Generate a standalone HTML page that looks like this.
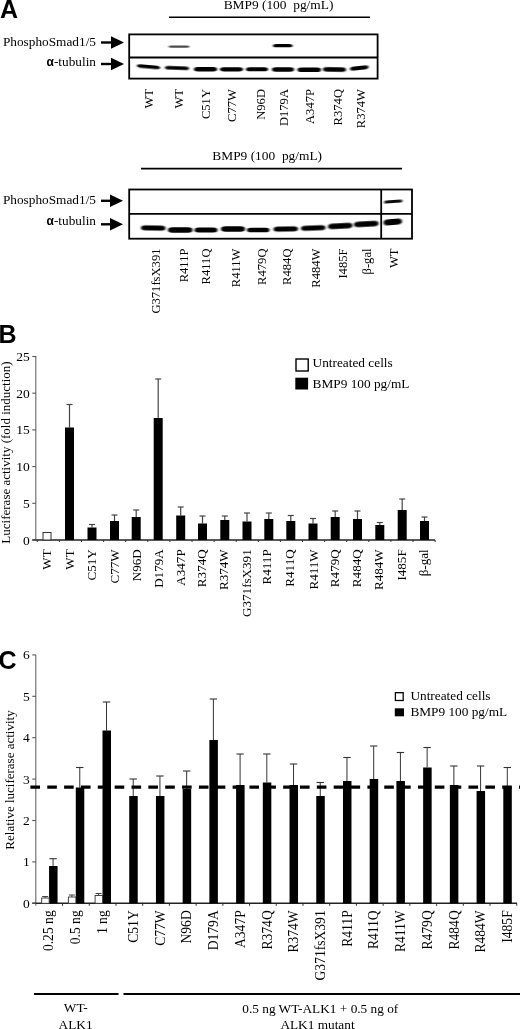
<!DOCTYPE html>
<html><head><meta charset="utf-8"><title>Figure</title>
<style>html,body{margin:0;padding:0;background:#fff;}body{width:520px;height:1029px;overflow:hidden;font-family:"Liberation Serif",serif;}svg{display:block;}.se{font-family:"Liberation Serif",serif;}.sa{font-family:"Liberation Sans",sans-serif;}</style>
</head><body>
<svg width="520" height="1029" viewBox="0 0 520 1029">
<defs><filter id="b1" x="-20%" y="-100%" width="140%" height="300%"><feGaussianBlur stdDeviation="0.9 0.7"/></filter><filter id="b2" x="-20%" y="-100%" width="140%" height="300%"><feGaussianBlur stdDeviation="0.8 0.5"/></filter><filter id="soft"><feGaussianBlur stdDeviation="0.35"/></filter></defs>
<rect width="520" height="1029" fill="#fff"/>
<g filter="url(#soft)">
<text x="0" y="18.3" font-size="25" font-weight="bold" class="sa">A</text>
<text x="278.5" y="9.2" text-anchor="middle" font-size="13.4" class="se" xml:space="preserve" style="white-space:pre">BMP9 (100  pg/mL)</text>
<line x1="169" y1="17.2" x2="370" y2="17.2" stroke="#000" stroke-width="1.6"/>
<text x="96" y="46.3" text-anchor="end" font-size="13.3" class="se">PhosphoSmad1/5</text>
<text x="96" y="66" text-anchor="end" font-size="13.3" class="se"><tspan font-weight="bold" class="sa" font-size="12">α</tspan>-tubulin</text>
<line x1="101" y1="42.5" x2="112" y2="42.5" stroke="#000" stroke-width="2.4"/>
<path d="M111 36.2 L124 42.5 L111 48.8 Z" fill="#000"/>
<line x1="101" y1="64" x2="112" y2="64" stroke="#000" stroke-width="2.4"/>
<path d="M111 57.7 L124 64 L111 70.3 Z" fill="#000"/>
<rect x="129.2" y="34.4" width="248.4" height="44.2" fill="none" stroke="#000" stroke-width="1.8"/>
<line x1="129" y1="57.5" x2="378" y2="57.5" stroke="#000" stroke-width="1.8"/>
<rect x="168.5" y="45.6" width="21.0" height="2.2" rx="2.6" ry="1.1" fill="#000" opacity="0.7" filter="url(#b2)" transform="rotate(0 179.0 46.7)"/>
<rect x="273" y="44.050000000000004" width="19.5" height="3.3" rx="3.15" ry="1.65" fill="#000" opacity="1" filter="url(#b2)" transform="rotate(0 282.75 45.7)"/>
<rect x="137" y="65.1" width="23" height="3.4" rx="3.2" ry="1.7" fill="#000" opacity="1" filter="url(#b1)" transform="rotate(5 148.5 66.8)"/>
<rect x="165" y="66.2" width="24" height="3.6" rx="3.3" ry="1.8" fill="#000" opacity="1" filter="url(#b1)" transform="rotate(2 177.0 68)"/>
<rect x="194" y="67.1" width="23" height="4.4" rx="3.7" ry="2.2" fill="#000" opacity="1" filter="url(#b1)" transform="rotate(0 205.5 69.3)"/>
<rect x="220" y="67.2" width="23" height="4.2" rx="3.6" ry="2.1" fill="#000" opacity="1" filter="url(#b1)" transform="rotate(0 231.5 69.3)"/>
<rect x="246" y="67.3" width="22" height="4" rx="3.5" ry="2.0" fill="#000" opacity="1" filter="url(#b1)" transform="rotate(0 257.0 69.3)"/>
<rect x="272" y="67.3" width="22" height="4.4" rx="3.7" ry="2.2" fill="#000" opacity="1" filter="url(#b1)" transform="rotate(0 283.0 69.5)"/>
<rect x="297.5" y="67.4" width="23.5" height="4.6" rx="3.8" ry="2.3" fill="#000" opacity="1" filter="url(#b1)" transform="rotate(0 309.25 69.7)"/>
<rect x="323" y="67.3" width="23" height="4.4" rx="3.7" ry="2.2" fill="#000" opacity="1" filter="url(#b1)" transform="rotate(1 334.5 69.5)"/>
<rect x="350" y="66.1" width="18.5" height="3.8" rx="3.4" ry="1.9" fill="#000" opacity="1" filter="url(#b1)" transform="rotate(-6 359.25 68)"/>
<text transform="translate(153.2,89) rotate(-90)" text-anchor="end" font-size="12.6" class="se" >WT</text>
<text transform="translate(183.2,89) rotate(-90)" text-anchor="end" font-size="12.6" class="se" >WT</text>
<text transform="translate(210.2,89) rotate(-90)" text-anchor="end" font-size="12.6" class="se" >C51Y</text>
<text transform="translate(236.2,89) rotate(-90)" text-anchor="end" font-size="12.6" class="se" >C77W</text>
<text transform="translate(264.7,89) rotate(-90)" text-anchor="end" font-size="12.6" class="se" >N96D</text>
<text transform="translate(288.2,89) rotate(-90)" text-anchor="end" font-size="12.6" class="se" >D179A</text>
<text transform="translate(314.2,89) rotate(-90)" text-anchor="end" font-size="12.6" class="se" >A347P</text>
<text transform="translate(341.7,89) rotate(-90)" text-anchor="end" font-size="12.6" class="se" >R374Q</text>
<text transform="translate(365.2,89) rotate(-90)" text-anchor="end" font-size="12.6" class="se" >R374W</text>
<text x="267.2" y="159.7" text-anchor="middle" font-size="13.4" class="se" xml:space="preserve" style="white-space:pre">BMP9 (100  pg/mL)</text>
<line x1="141" y1="168.6" x2="402" y2="168.6" stroke="#000" stroke-width="1.6"/>
<text x="96" y="204" text-anchor="end" font-size="13.3" class="se">PhosphoSmad1/5</text>
<text x="96" y="225.3" text-anchor="end" font-size="13.3" class="se"><tspan font-weight="bold" class="sa" font-size="12">α</tspan>-tubulin</text>
<line x1="101" y1="200.8" x2="111" y2="200.8" stroke="#000" stroke-width="2.4"/>
<path d="M110 194.5 L123 200.8 L110 207.10000000000002 Z" fill="#000"/>
<line x1="101" y1="224.3" x2="111" y2="224.3" stroke="#000" stroke-width="2.4"/>
<path d="M110 218.0 L123 224.3 L110 230.60000000000002 Z" fill="#000"/>
<rect x="129.2" y="189.5" width="282.8" height="49.2" fill="none" stroke="#000" stroke-width="1.8"/>
<line x1="129" y1="213.8" x2="412" y2="213.8" stroke="#000" stroke-width="1.8"/>
<line x1="381.2" y1="189.5" x2="381.2" y2="238.7" stroke="#000" stroke-width="1.8"/>
<rect x="141" y="225.5" width="24.5" height="5" rx="4.0" ry="2.5" fill="#000" opacity="1" filter="url(#b1)" transform="rotate(1 153.25 228)"/>
<rect x="168" y="227.3" width="24.5" height="5.4" rx="4.2" ry="2.7" fill="#000" opacity="1" filter="url(#b1)" transform="rotate(0 180.25 230)"/>
<rect x="194.5" y="227.5" width="23.0" height="5" rx="4.0" ry="2.5" fill="#000" opacity="1" filter="url(#b1)" transform="rotate(0 206.0 230)"/>
<rect x="221" y="226.2" width="24" height="5.6" rx="4.3" ry="2.8" fill="#000" opacity="1" filter="url(#b1)" transform="rotate(0 233.0 229)"/>
<rect x="247" y="227.7" width="22.5" height="4.6" rx="3.8" ry="2.3" fill="#000" opacity="1" filter="url(#b1)" transform="rotate(0 258.25 230)"/>
<rect x="273.5" y="226.5" width="24.5" height="5" rx="4.0" ry="2.5" fill="#000" opacity="1" filter="url(#b1)" transform="rotate(-1 285.75 229)"/>
<rect x="301" y="225.5" width="24.5" height="5" rx="4.0" ry="2.5" fill="#000" opacity="1" filter="url(#b1)" transform="rotate(-2 313.25 228)"/>
<rect x="328" y="223.3" width="24.5" height="5.4" rx="4.2" ry="2.7" fill="#000" opacity="1" filter="url(#b1)" transform="rotate(-3 340.25 226)"/>
<rect x="354" y="221.2" width="24.5" height="5.6" rx="4.3" ry="2.8" fill="#000" opacity="1" filter="url(#b1)" transform="rotate(-3 366.25 224)"/>
<rect x="383.5" y="219.1" width="18.5" height="5.8" rx="4.4" ry="2.9" fill="#000" opacity="1" filter="url(#b1)" transform="rotate(-5 392.75 222)"/>
<rect x="384" y="200.1" width="18.5" height="3" rx="3.0" ry="1.5" fill="#000" opacity="0.95" filter="url(#b2)" transform="rotate(-4 393.25 201.6)"/>
<text transform="translate(160.2,248.5) rotate(-90)" text-anchor="end" font-size="12.6" class="se" >G371fsX391</text>
<text transform="translate(187.89999999999998,248.5) rotate(-90)" text-anchor="end" font-size="12.6" class="se" >R411P</text>
<text transform="translate(209.89999999999998,248.5) rotate(-90)" text-anchor="end" font-size="12.6" class="se" >R411Q</text>
<text transform="translate(240.2,248.5) rotate(-90)" text-anchor="end" font-size="12.6" class="se" >R411W</text>
<text transform="translate(265.7,248.5) rotate(-90)" text-anchor="end" font-size="12.6" class="se" >R479Q</text>
<text transform="translate(290.9,248.5) rotate(-90)" text-anchor="end" font-size="12.6" class="se" >R484Q</text>
<text transform="translate(319.7,248.5) rotate(-90)" text-anchor="end" font-size="12.6" class="se" >R484W</text>
<text transform="translate(347.0,248.5) rotate(-90)" text-anchor="end" font-size="12.6" class="se" >I485F</text>
<text transform="translate(371.2,248.5) rotate(-90)" text-anchor="end" font-size="12.6" class="se" >β-gal</text>
<text transform="translate(397.5,248.5) rotate(-90)" text-anchor="end" font-size="12.6" class="se" >WT</text>
<text x="-1.5" y="342.7" font-size="25" font-weight="bold" class="sa">B</text>
<line x1="35.8" y1="356" x2="35.8" y2="540.0" stroke="#666" stroke-width="1.1"/>
<line x1="32.3" y1="540.0" x2="435" y2="540.0" stroke="#222" stroke-width="1.4"/>
<line x1="37.3" y1="540.0" x2="37.3" y2="542.0" stroke="#333" stroke-width="1"/>
<line x1="59.4" y1="540.0" x2="59.4" y2="542.0" stroke="#333" stroke-width="1"/>
<line x1="81.5" y1="540.0" x2="81.5" y2="542.0" stroke="#333" stroke-width="1"/>
<line x1="103.60000000000001" y1="540.0" x2="103.60000000000001" y2="542.0" stroke="#333" stroke-width="1"/>
<line x1="125.7" y1="540.0" x2="125.7" y2="542.0" stroke="#333" stroke-width="1"/>
<line x1="147.8" y1="540.0" x2="147.8" y2="542.0" stroke="#333" stroke-width="1"/>
<line x1="169.90000000000003" y1="540.0" x2="169.90000000000003" y2="542.0" stroke="#333" stroke-width="1"/>
<line x1="192.0" y1="540.0" x2="192.0" y2="542.0" stroke="#333" stroke-width="1"/>
<line x1="214.10000000000002" y1="540.0" x2="214.10000000000002" y2="542.0" stroke="#333" stroke-width="1"/>
<line x1="236.2" y1="540.0" x2="236.2" y2="542.0" stroke="#333" stroke-width="1"/>
<line x1="258.3" y1="540.0" x2="258.3" y2="542.0" stroke="#333" stroke-width="1"/>
<line x1="280.40000000000003" y1="540.0" x2="280.40000000000003" y2="542.0" stroke="#333" stroke-width="1"/>
<line x1="302.50000000000006" y1="540.0" x2="302.50000000000006" y2="542.0" stroke="#333" stroke-width="1"/>
<line x1="324.6" y1="540.0" x2="324.6" y2="542.0" stroke="#333" stroke-width="1"/>
<line x1="346.70000000000005" y1="540.0" x2="346.70000000000005" y2="542.0" stroke="#333" stroke-width="1"/>
<line x1="368.8" y1="540.0" x2="368.8" y2="542.0" stroke="#333" stroke-width="1"/>
<line x1="390.90000000000003" y1="540.0" x2="390.90000000000003" y2="542.0" stroke="#333" stroke-width="1"/>
<line x1="413.00000000000006" y1="540.0" x2="413.00000000000006" y2="542.0" stroke="#333" stroke-width="1"/>
<line x1="435.1" y1="540.0" x2="435.1" y2="542.0" stroke="#333" stroke-width="1"/>
<line x1="32.3" y1="540.0" x2="35.8" y2="540.0" stroke="#555" stroke-width="1.1"/>
<text x="29.8" y="544.5" text-anchor="end" font-size="13.5" class="se">0</text>
<line x1="32.3" y1="503.3" x2="35.8" y2="503.3" stroke="#555" stroke-width="1.1"/>
<text x="29.8" y="507.8" text-anchor="end" font-size="13.5" class="se">5</text>
<line x1="32.3" y1="466.6" x2="35.8" y2="466.6" stroke="#555" stroke-width="1.1"/>
<text x="29.8" y="471.1" text-anchor="end" font-size="13.5" class="se">10</text>
<line x1="32.3" y1="429.9" x2="35.8" y2="429.9" stroke="#555" stroke-width="1.1"/>
<text x="29.8" y="434.4" text-anchor="end" font-size="13.5" class="se">15</text>
<line x1="32.3" y1="393.2" x2="35.8" y2="393.2" stroke="#555" stroke-width="1.1"/>
<text x="29.8" y="397.7" text-anchor="end" font-size="13.5" class="se">20</text>
<line x1="32.3" y1="356.5" x2="35.8" y2="356.5" stroke="#555" stroke-width="1.1"/>
<text x="29.8" y="361.0" text-anchor="end" font-size="13.5" class="se">25</text>
<text transform="translate(10,452.5) rotate(-90)" text-anchor="middle" font-size="13" class="se">Luciferase activity (fold induction)</text>
<rect x="43.0" y="532.5" width="8" height="7.5" fill="#fff" stroke="#333" stroke-width="1"/>
<text transform="translate(51.3,549.3) rotate(-90)" text-anchor="end" font-size="13.1" class="se" >WT</text>
<line x1="69.5" y1="404.5" x2="69.5" y2="427.5" stroke="#444" stroke-width="1.2"/>
<line x1="66.5" y1="404.5" x2="72.5" y2="404.5" stroke="#444" stroke-width="1.2"/>
<rect x="65.0" y="427.5" width="9" height="112.5" fill="#000"/>
<text transform="translate(73.8,549.3) rotate(-90)" text-anchor="end" font-size="13.1" class="se" >WT</text>
<line x1="92" y1="524.5" x2="92" y2="527.5" stroke="#444" stroke-width="1.2"/>
<line x1="89" y1="524.5" x2="95" y2="524.5" stroke="#444" stroke-width="1.2"/>
<rect x="87.5" y="527.5" width="9" height="12.5" fill="#000"/>
<text transform="translate(96.3,549.3) rotate(-90)" text-anchor="end" font-size="13.1" class="se" >C51Y</text>
<line x1="114.5" y1="515" x2="114.5" y2="521" stroke="#444" stroke-width="1.2"/>
<line x1="111.5" y1="515" x2="117.5" y2="515" stroke="#444" stroke-width="1.2"/>
<rect x="110.0" y="521" width="9" height="19.0" fill="#000"/>
<text transform="translate(118.8,549.3) rotate(-90)" text-anchor="end" font-size="13.1" class="se" >C77W</text>
<line x1="136.2" y1="510" x2="136.2" y2="517" stroke="#444" stroke-width="1.2"/>
<line x1="133.2" y1="510" x2="139.2" y2="510" stroke="#444" stroke-width="1.2"/>
<rect x="131.7" y="517" width="9" height="23.0" fill="#000"/>
<text transform="translate(140.5,549.3) rotate(-90)" text-anchor="end" font-size="13.1" class="se" >N96D</text>
<line x1="158.2" y1="379" x2="158.2" y2="418" stroke="#444" stroke-width="1.2"/>
<line x1="155.2" y1="379" x2="161.2" y2="379" stroke="#444" stroke-width="1.2"/>
<rect x="153.7" y="418" width="9" height="122.0" fill="#000"/>
<text transform="translate(162.5,549.3) rotate(-90)" text-anchor="end" font-size="13.1" class="se" >D179A</text>
<line x1="180.7" y1="507" x2="180.7" y2="515.5" stroke="#444" stroke-width="1.2"/>
<line x1="177.7" y1="507" x2="183.7" y2="507" stroke="#444" stroke-width="1.2"/>
<rect x="176.2" y="515.5" width="9" height="24.5" fill="#000"/>
<text transform="translate(185.0,549.3) rotate(-90)" text-anchor="end" font-size="13.1" class="se" >A347P</text>
<line x1="202.5" y1="516" x2="202.5" y2="523.5" stroke="#444" stroke-width="1.2"/>
<line x1="199.5" y1="516" x2="205.5" y2="516" stroke="#444" stroke-width="1.2"/>
<rect x="198.0" y="523.5" width="9" height="16.5" fill="#000"/>
<text transform="translate(206.0,549.3) rotate(-90)" text-anchor="end" font-size="13.1" class="se" >R374Q</text>
<line x1="224.8" y1="516" x2="224.8" y2="520" stroke="#444" stroke-width="1.2"/>
<line x1="221.8" y1="516" x2="227.8" y2="516" stroke="#444" stroke-width="1.2"/>
<rect x="220.3" y="520" width="9" height="20.0" fill="#000"/>
<text transform="translate(228.3,549.3) rotate(-90)" text-anchor="end" font-size="13.1" class="se" >R374W</text>
<line x1="247" y1="513" x2="247" y2="521.5" stroke="#444" stroke-width="1.2"/>
<line x1="244" y1="513" x2="250" y2="513" stroke="#444" stroke-width="1.2"/>
<rect x="242.5" y="521.5" width="9" height="18.5" fill="#000"/>
<text transform="translate(250.5,549.3) rotate(-90)" text-anchor="end" font-size="13.1" class="se" >G371fsX391</text>
<line x1="268.8" y1="513" x2="268.8" y2="519" stroke="#444" stroke-width="1.2"/>
<line x1="265.8" y1="513" x2="271.8" y2="513" stroke="#444" stroke-width="1.2"/>
<rect x="264.3" y="519" width="9" height="21.0" fill="#000"/>
<text transform="translate(271.1,549.3) rotate(-90)" text-anchor="end" font-size="13.1" class="se" >R411P</text>
<line x1="290.8" y1="515.5" x2="290.8" y2="521" stroke="#444" stroke-width="1.2"/>
<line x1="287.8" y1="515.5" x2="293.8" y2="515.5" stroke="#444" stroke-width="1.2"/>
<rect x="286.3" y="521" width="9" height="19.0" fill="#000"/>
<text transform="translate(294.3,549.3) rotate(-90)" text-anchor="end" font-size="13.1" class="se" >R411Q</text>
<line x1="313" y1="518.5" x2="313" y2="523.5" stroke="#444" stroke-width="1.2"/>
<line x1="310" y1="518.5" x2="316" y2="518.5" stroke="#444" stroke-width="1.2"/>
<rect x="308.5" y="523.5" width="9" height="16.5" fill="#000"/>
<text transform="translate(317.7,549.3) rotate(-90)" text-anchor="end" font-size="13.1" class="se" >R411W</text>
<line x1="335.2" y1="511" x2="335.2" y2="517" stroke="#444" stroke-width="1.2"/>
<line x1="332.2" y1="511" x2="338.2" y2="511" stroke="#444" stroke-width="1.2"/>
<rect x="330.7" y="517" width="9" height="23.0" fill="#000"/>
<text transform="translate(338.7,549.3) rotate(-90)" text-anchor="end" font-size="13.1" class="se" >R479Q</text>
<line x1="357.5" y1="511" x2="357.5" y2="519" stroke="#444" stroke-width="1.2"/>
<line x1="354.5" y1="511" x2="360.5" y2="511" stroke="#444" stroke-width="1.2"/>
<rect x="353.0" y="519" width="9" height="21.0" fill="#000"/>
<text transform="translate(361.0,549.3) rotate(-90)" text-anchor="end" font-size="13.1" class="se" >R484Q</text>
<line x1="379.8" y1="522.5" x2="379.8" y2="525" stroke="#444" stroke-width="1.2"/>
<line x1="376.8" y1="522.5" x2="382.8" y2="522.5" stroke="#444" stroke-width="1.2"/>
<rect x="375.3" y="525" width="9" height="15.0" fill="#000"/>
<text transform="translate(383.3,549.3) rotate(-90)" text-anchor="end" font-size="13.1" class="se" >R484W</text>
<line x1="402.2" y1="499" x2="402.2" y2="510" stroke="#444" stroke-width="1.2"/>
<line x1="399.2" y1="499" x2="405.2" y2="499" stroke="#444" stroke-width="1.2"/>
<rect x="397.7" y="510" width="9" height="30.0" fill="#000"/>
<text transform="translate(405.7,549.3) rotate(-90)" text-anchor="end" font-size="13.1" class="se" >I485F</text>
<line x1="424.5" y1="517" x2="424.5" y2="521" stroke="#444" stroke-width="1.2"/>
<line x1="421.5" y1="517" x2="427.5" y2="517" stroke="#444" stroke-width="1.2"/>
<rect x="420.0" y="521" width="9" height="19.0" fill="#000"/>
<text transform="translate(428.0,549.3) rotate(-90)" text-anchor="end" font-size="13.1" class="se" >β-gal</text>
<rect x="296" y="359" width="12.2" height="12" fill="#fff" stroke="#000" stroke-width="1.4"/>
<rect x="295.3" y="377.7" width="12.8" height="11.8" fill="#000"/>
<text x="312.6" y="366.7" font-size="13.3" class="se">Untreated cells</text>
<text x="312.6" y="388.3" font-size="13.3" class="se">BMP9 100 pg/mL</text>
<text x="-1.5" y="669" font-size="25" font-weight="bold" class="sa">C</text>
<line x1="35.8" y1="655" x2="35.8" y2="905.8" stroke="#666" stroke-width="1.1"/>
<line x1="32.3" y1="903.3" x2="517" y2="903.3" stroke="#222" stroke-width="1.4"/>
<line x1="32.3" y1="903.3" x2="35.8" y2="903.3" stroke="#555" stroke-width="1.1"/>
<text x="29.8" y="907.8" text-anchor="end" font-size="13.5" class="se">0</text>
<line x1="32.3" y1="861.9" x2="35.8" y2="861.9" stroke="#555" stroke-width="1.1"/>
<text x="29.8" y="866.4" text-anchor="end" font-size="13.5" class="se">1</text>
<line x1="32.3" y1="820.5" x2="35.8" y2="820.5" stroke="#555" stroke-width="1.1"/>
<text x="29.8" y="825.0" text-anchor="end" font-size="13.5" class="se">2</text>
<line x1="32.3" y1="779.0999999999999" x2="35.8" y2="779.0999999999999" stroke="#555" stroke-width="1.1"/>
<text x="29.8" y="783.5999999999999" text-anchor="end" font-size="13.5" class="se">3</text>
<line x1="32.3" y1="737.6999999999999" x2="35.8" y2="737.6999999999999" stroke="#555" stroke-width="1.1"/>
<text x="29.8" y="742.1999999999999" text-anchor="end" font-size="13.5" class="se">4</text>
<line x1="32.3" y1="696.3" x2="35.8" y2="696.3" stroke="#555" stroke-width="1.1"/>
<text x="29.8" y="700.8" text-anchor="end" font-size="13.5" class="se">5</text>
<line x1="32.3" y1="654.9" x2="35.8" y2="654.9" stroke="#555" stroke-width="1.1"/>
<text x="29.8" y="659.4" text-anchor="end" font-size="13.5" class="se">6</text>
<line x1="62.519999999999996" y1="903.3" x2="62.519999999999996" y2="905.8" stroke="#333" stroke-width="1"/>
<line x1="89.24" y1="903.3" x2="89.24" y2="905.8" stroke="#333" stroke-width="1"/>
<line x1="115.96" y1="903.3" x2="115.96" y2="905.8" stroke="#333" stroke-width="1"/>
<line x1="142.68" y1="903.3" x2="142.68" y2="905.8" stroke="#333" stroke-width="1"/>
<line x1="169.39999999999998" y1="903.3" x2="169.39999999999998" y2="905.8" stroke="#333" stroke-width="1"/>
<line x1="196.12" y1="903.3" x2="196.12" y2="905.8" stroke="#333" stroke-width="1"/>
<line x1="222.83999999999997" y1="903.3" x2="222.83999999999997" y2="905.8" stroke="#333" stroke-width="1"/>
<line x1="249.56" y1="903.3" x2="249.56" y2="905.8" stroke="#333" stroke-width="1"/>
<line x1="276.28" y1="903.3" x2="276.28" y2="905.8" stroke="#333" stroke-width="1"/>
<line x1="303.0" y1="903.3" x2="303.0" y2="905.8" stroke="#333" stroke-width="1"/>
<line x1="329.71999999999997" y1="903.3" x2="329.71999999999997" y2="905.8" stroke="#333" stroke-width="1"/>
<line x1="356.44" y1="903.3" x2="356.44" y2="905.8" stroke="#333" stroke-width="1"/>
<line x1="383.16" y1="903.3" x2="383.16" y2="905.8" stroke="#333" stroke-width="1"/>
<line x1="409.88" y1="903.3" x2="409.88" y2="905.8" stroke="#333" stroke-width="1"/>
<line x1="436.59999999999997" y1="903.3" x2="436.59999999999997" y2="905.8" stroke="#333" stroke-width="1"/>
<line x1="463.32" y1="903.3" x2="463.32" y2="905.8" stroke="#333" stroke-width="1"/>
<line x1="490.04" y1="903.3" x2="490.04" y2="905.8" stroke="#333" stroke-width="1"/>
<line x1="516.76" y1="903.3" x2="516.76" y2="905.8" stroke="#333" stroke-width="1"/>
<text transform="translate(14.2,780) rotate(-90)" text-anchor="middle" font-size="13" class="se">Relative luciferase activity</text>
<line x1="53.059999999999995" y1="858.7" x2="53.059999999999995" y2="866" stroke="#333" stroke-width="1"/>
<line x1="49.35999999999999" y1="858.7" x2="56.76" y2="858.7" stroke="#333" stroke-width="1.1"/>
<rect x="49.059999999999995" y="866" width="8.5" height="37.299999999999955" fill="#000"/>
<rect x="41.66" y="898" width="7.5" height="5.2999999999999545" fill="#fff" stroke="#333" stroke-width="0.9"/>
<line x1="45.16" y1="896.5" x2="45.16" y2="898" stroke="#444" stroke-width="1"/>
<line x1="42.16" y1="896.5" x2="48.16" y2="896.5" stroke="#444" stroke-width="1"/>
<text transform="translate(53.059999999999995,910.3) rotate(-90)" text-anchor="end" font-size="13.6" class="se" >0.25 ng</text>
<line x1="79.78" y1="767.5" x2="79.78" y2="787.5" stroke="#333" stroke-width="1"/>
<line x1="76.08" y1="767.5" x2="83.48" y2="767.5" stroke="#333" stroke-width="1.1"/>
<rect x="75.78" y="787.5" width="8.5" height="115.79999999999995" fill="#000"/>
<rect x="68.38" y="897" width="7.5" height="6.2999999999999545" fill="#fff" stroke="#333" stroke-width="0.9"/>
<line x1="71.88" y1="895" x2="71.88" y2="897" stroke="#444" stroke-width="1"/>
<line x1="68.88" y1="895" x2="74.88" y2="895" stroke="#444" stroke-width="1"/>
<text transform="translate(79.78,910.3) rotate(-90)" text-anchor="end" font-size="13.6" class="se" >0.5 ng</text>
<line x1="106.5" y1="702" x2="106.5" y2="730.5" stroke="#333" stroke-width="1"/>
<line x1="102.8" y1="702" x2="110.2" y2="702" stroke="#333" stroke-width="1.1"/>
<rect x="102.5" y="730.5" width="8.5" height="172.79999999999995" fill="#000"/>
<rect x="95.1" y="895.5" width="7.5" height="7.7999999999999545" fill="#fff" stroke="#333" stroke-width="0.9"/>
<line x1="98.6" y1="893.5" x2="98.6" y2="895.5" stroke="#444" stroke-width="1"/>
<line x1="95.6" y1="893.5" x2="101.6" y2="893.5" stroke="#444" stroke-width="1"/>
<text transform="translate(106.5,910.3) rotate(-90)" text-anchor="end" font-size="13.6" class="se" >1 ng</text>
<line x1="133.22" y1="779" x2="133.22" y2="796" stroke="#333" stroke-width="1"/>
<line x1="129.52" y1="779" x2="136.92" y2="779" stroke="#333" stroke-width="1.1"/>
<rect x="129.22" y="796" width="8.5" height="107.29999999999995" fill="#000"/>
<text transform="translate(137.92,910.3) rotate(-90)" text-anchor="end" font-size="13.6" class="se" >C51Y</text>
<line x1="159.94000000000003" y1="776" x2="159.94000000000003" y2="796" stroke="#333" stroke-width="1"/>
<line x1="156.24000000000004" y1="776" x2="163.64000000000001" y2="776" stroke="#333" stroke-width="1.1"/>
<rect x="155.94000000000003" y="796" width="8.5" height="107.29999999999995" fill="#000"/>
<text transform="translate(164.64000000000001,910.3) rotate(-90)" text-anchor="end" font-size="13.6" class="se" >C77W</text>
<line x1="186.66" y1="771" x2="186.66" y2="789" stroke="#333" stroke-width="1"/>
<line x1="182.96" y1="771" x2="190.35999999999999" y2="771" stroke="#333" stroke-width="1.1"/>
<rect x="182.66" y="789" width="8.5" height="114.29999999999995" fill="#000"/>
<text transform="translate(191.35999999999999,910.3) rotate(-90)" text-anchor="end" font-size="13.6" class="se" >N96D</text>
<line x1="213.38000000000002" y1="699" x2="213.38000000000002" y2="740" stroke="#333" stroke-width="1"/>
<line x1="209.68000000000004" y1="699" x2="217.08" y2="699" stroke="#333" stroke-width="1.1"/>
<rect x="209.38000000000002" y="740" width="8.5" height="163.29999999999995" fill="#000"/>
<text transform="translate(218.08,910.3) rotate(-90)" text-anchor="end" font-size="13.6" class="se" >D179A</text>
<line x1="240.1" y1="754" x2="240.1" y2="785" stroke="#333" stroke-width="1"/>
<line x1="236.4" y1="754" x2="243.79999999999998" y2="754" stroke="#333" stroke-width="1.1"/>
<rect x="236.1" y="785" width="8.5" height="118.29999999999995" fill="#000"/>
<text transform="translate(244.79999999999998,910.3) rotate(-90)" text-anchor="end" font-size="13.6" class="se" >A347P</text>
<line x1="266.82" y1="754" x2="266.82" y2="782.5" stroke="#333" stroke-width="1"/>
<line x1="263.12" y1="754" x2="270.52" y2="754" stroke="#333" stroke-width="1.1"/>
<rect x="262.82" y="782.5" width="8.5" height="120.79999999999995" fill="#000"/>
<text transform="translate(271.52000000000004,910.3) rotate(-90)" text-anchor="end" font-size="13.6" class="se" >R374Q</text>
<line x1="293.53999999999996" y1="764" x2="293.53999999999996" y2="785" stroke="#333" stroke-width="1"/>
<line x1="289.84" y1="764" x2="297.23999999999995" y2="764" stroke="#333" stroke-width="1.1"/>
<rect x="289.53999999999996" y="785" width="8.5" height="118.29999999999995" fill="#000"/>
<text transform="translate(298.24,910.3) rotate(-90)" text-anchor="end" font-size="13.6" class="se" >R374W</text>
<line x1="320.26" y1="782.5" x2="320.26" y2="796" stroke="#333" stroke-width="1"/>
<line x1="316.56" y1="782.5" x2="323.96" y2="782.5" stroke="#333" stroke-width="1.1"/>
<rect x="316.26" y="796" width="8.5" height="107.29999999999995" fill="#000"/>
<text transform="translate(324.96000000000004,910.3) rotate(-90)" text-anchor="end" font-size="13.6" class="se" >G371fsX391</text>
<line x1="346.97999999999996" y1="757.5" x2="346.97999999999996" y2="781" stroke="#333" stroke-width="1"/>
<line x1="343.28" y1="757.5" x2="350.67999999999995" y2="757.5" stroke="#333" stroke-width="1.1"/>
<rect x="342.97999999999996" y="781" width="8.5" height="122.29999999999995" fill="#000"/>
<text transform="translate(351.68,910.3) rotate(-90)" text-anchor="end" font-size="13.6" class="se" >R411P</text>
<line x1="373.7" y1="746" x2="373.7" y2="779" stroke="#333" stroke-width="1"/>
<line x1="370.0" y1="746" x2="377.4" y2="746" stroke="#333" stroke-width="1.1"/>
<rect x="369.7" y="779" width="8.5" height="124.29999999999995" fill="#000"/>
<text transform="translate(378.40000000000003,910.3) rotate(-90)" text-anchor="end" font-size="13.6" class="se" >R411Q</text>
<line x1="400.42" y1="752.5" x2="400.42" y2="781" stroke="#333" stroke-width="1"/>
<line x1="396.72" y1="752.5" x2="404.12" y2="752.5" stroke="#333" stroke-width="1.1"/>
<rect x="396.42" y="781" width="8.5" height="122.29999999999995" fill="#000"/>
<text transform="translate(405.12000000000006,910.3) rotate(-90)" text-anchor="end" font-size="13.6" class="se" >R411W</text>
<line x1="427.14" y1="747.5" x2="427.14" y2="767.5" stroke="#333" stroke-width="1"/>
<line x1="423.44" y1="747.5" x2="430.84" y2="747.5" stroke="#333" stroke-width="1.1"/>
<rect x="423.14" y="767.5" width="8.5" height="135.79999999999995" fill="#000"/>
<text transform="translate(431.84000000000003,910.3) rotate(-90)" text-anchor="end" font-size="13.6" class="se" >R479Q</text>
<line x1="453.85999999999996" y1="766" x2="453.85999999999996" y2="785" stroke="#333" stroke-width="1"/>
<line x1="450.15999999999997" y1="766" x2="457.55999999999995" y2="766" stroke="#333" stroke-width="1.1"/>
<rect x="449.85999999999996" y="785" width="8.5" height="118.29999999999995" fill="#000"/>
<text transform="translate(458.56,910.3) rotate(-90)" text-anchor="end" font-size="13.6" class="se" >R484Q</text>
<line x1="480.58" y1="766" x2="480.58" y2="791" stroke="#333" stroke-width="1"/>
<line x1="476.88" y1="766" x2="484.28" y2="766" stroke="#333" stroke-width="1.1"/>
<rect x="476.58" y="791" width="8.5" height="112.29999999999995" fill="#000"/>
<text transform="translate(485.28000000000003,910.3) rotate(-90)" text-anchor="end" font-size="13.6" class="se" >R484W</text>
<line x1="507.3" y1="767.5" x2="507.3" y2="786.5" stroke="#333" stroke-width="1"/>
<line x1="503.6" y1="767.5" x2="511.0" y2="767.5" stroke="#333" stroke-width="1.1"/>
<rect x="503.3" y="786.5" width="8.5" height="116.79999999999995" fill="#000"/>
<text transform="translate(512.0,910.3) rotate(-90)" text-anchor="end" font-size="13.6" class="se" >I485F</text>
<line x1="30.4" y1="787.2" x2="520" y2="787.2" stroke="#000" stroke-width="3.2" stroke-dasharray="9.6 7.25"/>
<rect x="395.4" y="692.7" width="7.8" height="7.8" fill="#fff" stroke="#000" stroke-width="1.3"/>
<rect x="394.8" y="708.3" width="9.2" height="8" fill="#000"/>
<text x="410.4" y="699.8" font-size="13.3" class="se">Untreated cells</text>
<text x="410.4" y="715.9" font-size="13.3" class="se">BMP9 100 pg/mL</text>
<line x1="34" y1="994" x2="118.5" y2="994" stroke="#000" stroke-width="1.8"/>
<line x1="123.5" y1="994" x2="520" y2="994" stroke="#000" stroke-width="1.8"/>
<text x="75.8" y="1012.3" text-anchor="middle" font-size="13.3" class="se">WT-</text>
<text x="75.6" y="1028.5" text-anchor="middle" font-size="13.3" class="se">ALK1</text>
<text x="320.3" y="1012.5" text-anchor="middle" font-size="13.3" class="se">0.5 ng WT-ALK1 + 0.5 ng of</text>
<text x="317.5" y="1028.5" text-anchor="middle" font-size="13.3" class="se">ALK1 mutant</text>
</g></svg>
</body></html>
